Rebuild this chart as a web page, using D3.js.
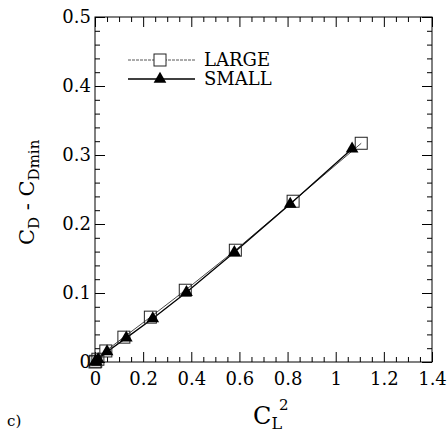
<!DOCTYPE html>
<html><head><meta charset="utf-8">
<script src="https://cdn.jsdelivr.net/npm/d3@7"></script>
<style>body{margin:0;background:#fff}svg text{font-family:"DejaVu Serif",serif;fill:#000}</style>
</head><body><svg id="c" width="447" height="433"></svg>
<script>
const largeX = [0, 0.003, 0.012, 0.045, 0.12, 0.23, 0.375, 0.583, 0.823, 1.106];
const largeY = [0, 0.001, 0.004, 0.016, 0.036, 0.065, 0.104, 0.162, 0.233, 0.317];
const smallX = [0, 0.003, 0.013, 0.05, 0.13, 0.24, 0.38, 0.579, 0.811, 1.068];
const smallY = [0, 0.001, 0.004, 0.015, 0.035, 0.063, 0.101, 0.159, 0.229, 0.309];
const xTicks = [0, 0.2, 0.4, 0.6, 0.8, 1, 1.2, 1.4];
const xTickLabels = ["0", "0.2", "0.4", "0.6", "0.8", "1", "1.2", "1.4"];
const yTicks = [0, 0.1, 0.2, 0.3, 0.4, 0.5];
const yTickLabels = ["0", "0.1", "0.2", "0.3", "0.4", "0.5"];
const seriesNames = ["LARGE", "SMALL"];

const svg = d3.select("#c");
const x = d3.scaleLinear().domain([0, 1.4]).range([95, 432]);
const y = d3.scaleLinear().domain([0, 0.5]).range([362, 17]);

const xMinor = d3.range(0, 1.4001, 0.05).filter(v => Math.abs(v / 0.2 - Math.round(v / 0.2)) > 1e-6);
const yMinor = d3.range(0, 0.5001, 0.02).filter(v => Math.abs(v / 0.1 - Math.round(v / 0.1)) > 1e-6);

// frame
svg.append("rect").attr("x", x(0)).attr("y", y(0.5)).attr("width", x(1.4) - x(0)).attr("height", y(0) - y(0.5))
  .attr("fill", "none").attr("stroke", "#000").attr("stroke-width", 1);

function ticksAxis(axisGen, tr, vals, len) {
  const g = svg.append("g").attr("transform", tr)
    .call(axisGen.tickValues(vals).tickSize(len).tickFormat(""));
  g.select(".domain").remove();
  g.selectAll("line").attr("stroke", "#000").attr("stroke-width", 1);
  return g;
}
ticksAxis(d3.axisTop(x), `translate(0,${y(0)})`, xTicks, 10);
ticksAxis(d3.axisTop(x), `translate(0,${y(0)})`, xMinor, 5);
ticksAxis(d3.axisBottom(x), `translate(0,${y(0.5)})`, xTicks, 10);
ticksAxis(d3.axisBottom(x), `translate(0,${y(0.5)})`, xMinor, 5);
ticksAxis(d3.axisRight(y), `translate(${x(0)},0)`, yTicks, 10);
ticksAxis(d3.axisRight(y), `translate(${x(0)},0)`, yMinor, 5);
ticksAxis(d3.axisLeft(y), `translate(${x(1.4)},0)`, yTicks, 10);
ticksAxis(d3.axisLeft(y), `translate(${x(1.4)},0)`, yMinor, 5);

// tick labels
const gxl = svg.append("g").attr("transform", `translate(0,${y(0)})`)
  .call(d3.axisBottom(x).tickValues(xTicks).tickSize(0).tickPadding(10).tickFormat((d, i) => xTickLabels[i]));
gxl.select(".domain").remove();
gxl.selectAll("text").attr("font-size", 18).attr("font-family", "DejaVu Serif");
const gyl = svg.append("g").attr("transform", `translate(${x(0)},0)`)
  .call(d3.axisLeft(y).tickValues(yTicks).tickSize(0).tickPadding(4).tickFormat((d, i) => yTickLabels[i]));
gyl.select(".domain").remove();
gyl.selectAll("text").attr("font-size", 18).attr("font-family", "DejaVu Serif");

// lines
const large = largeX.map((v, i) => [v, largeY[i]]);
const small = smallX.map((v, i) => [v, smallY[i]]);
const line = d3.line().x(d => x(d[0])).y(d => y(d[1]));
svg.append("path").datum(large).attr("d", line).attr("fill", "none").attr("stroke", "#333").attr("stroke-width", 0.9);
svg.append("path").datum(small).attr("d", line).attr("fill", "none").attr("stroke", "#000").attr("stroke-width", 1.3);

// markers
const sq = 12;
svg.append("g").selectAll("rect").data(large).join("rect")
  .attr("x", d => x(d[0]) - sq / 2).attr("y", d => y(d[1]) - sq / 2)
  .attr("width", sq).attr("height", sq).attr("fill", "none").attr("stroke", "#222").attr("stroke-width", 1);
const tri = d3.symbol().type(d3.symbolTriangle).size(70);
svg.append("g").selectAll("path").data(small).join("path")
  .attr("transform", d => `translate(${x(d[0])},${y(d[1])})`).attr("d", tri).attr("fill", "#000");

// legend
const lg = svg.append("g");
const legY = [60, 79];
lg.append("line").attr("x1", 128).attr("x2", 195).attr("y1", legY[0]).attr("y2", legY[0]).attr("stroke", "#444").attr("stroke-width", 0.9).attr("stroke-dasharray", "3,1");
lg.append("rect").attr("x", 160 - sq / 2).attr("y", legY[0] - sq / 2).attr("width", sq).attr("height", sq).attr("fill", "#fff").attr("stroke", "#222");
lg.append("line").attr("x1", 128).attr("x2", 195).attr("y1", legY[1]).attr("y2", legY[1]).attr("stroke", "#000").attr("stroke-width", 1.3);
lg.append("path").attr("transform", `translate(160,${legY[1]})`).attr("d", tri).attr("fill", "#000");
seriesNames.forEach((n, i) => {
  lg.append("text").attr("x", 204).attr("y", legY[i] + 6).attr("font-size", 18).text(n);
});

// axis titles
const xt = svg.append("text").attr("x", 253).attr("y", 424).attr("font-size", 24);
xt.append("tspan").text("C");
xt.append("tspan").attr("font-size", 16).attr("dy", 5).text("L");
xt.append("tspan").attr("font-size", 15).attr("dy", -19).attr("dx", -3).text("2");

const yt = svg.append("text").attr("transform", "translate(34,245) rotate(-90)").attr("font-size", 21);
yt.append("tspan").text("C");
yt.append("tspan").attr("font-size", 15).attr("dy", 5).text("D");
yt.append("tspan").attr("dy", -5).text(" - C");
yt.append("tspan").attr("font-size", 15).attr("dy", 5).text("Dmin");

svg.append("text").attr("x", 7).attr("y", 426).attr("font-size", 15).text("c)");
</script></body></html>
